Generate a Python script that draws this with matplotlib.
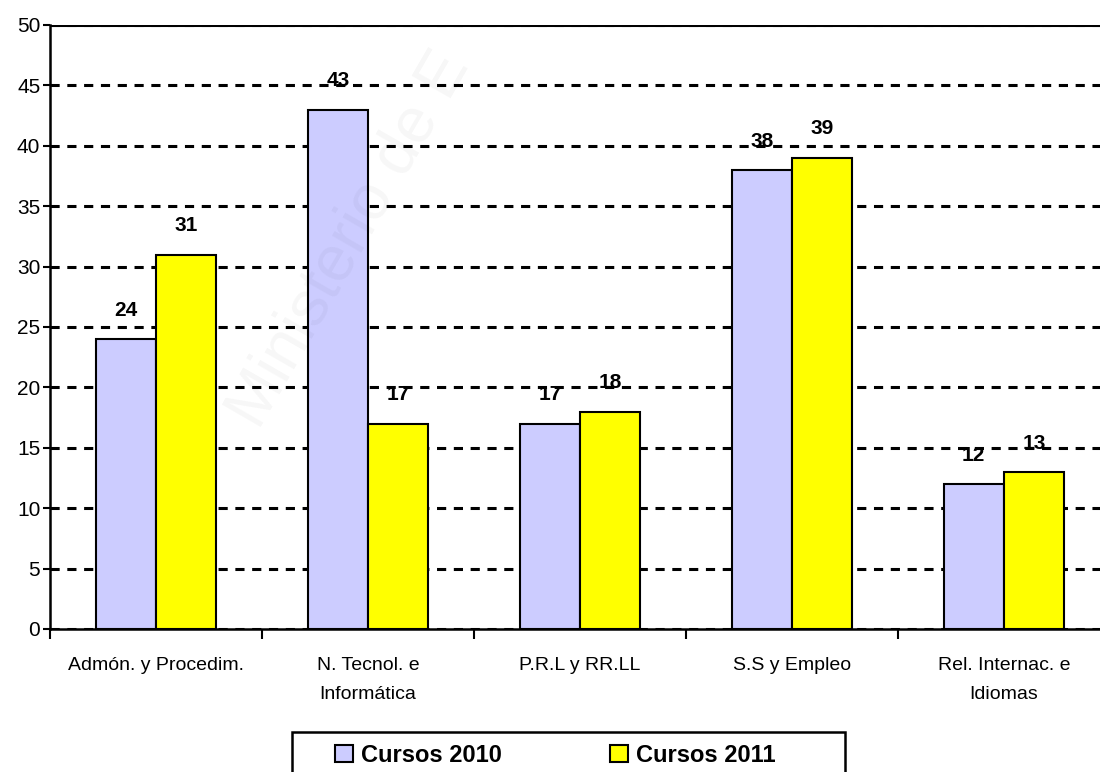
import numpy as np
import matplotlib.pyplot as plt
from matplotlib import rcParams
from matplotlib.patches import Rectangle

rcParams['font.family'] = ['Liberation Sans', 'DejaVu Sans']

# datos
categorias = ['Admón. y Procedim.', 'N. Tecnol. e\nInformática', 'P.R.L y RR.LL',
              'S.S y Empleo', 'Rel. Internac. e\nIdiomas']
cursos_2010 = [24, 43, 17, 38, 12]
cursos_2011 = [31, 17, 18, 39, 13]
series = ['Cursos 2010', 'Cursos 2011']

fig = plt.figure(figsize=(11, 7.72), dpi=100)
ax = fig.add_axes([50 / 1100, 1 - 629 / 772, 1060 / 1100, (629 - 25) / 772])

x = np.arange(len(categorias))
w = 0.285
b1 = ax.bar(x - w / 2, cursos_2010, w, color='#ccccff', edgecolor='black', linewidth=1.5,
            label=series[0], zorder=3)
b2 = ax.bar(x + w / 2, cursos_2011, w, color='#ffff00', edgecolor='black', linewidth=1.5,
            label=series[1], zorder=3)

for bars in (b1, b2):
    for r in bars:
        ax.annotate(f'{int(r.get_height())}', (r.get_x() + r.get_width() / 2, r.get_height()),
                    xytext=(0, 14), textcoords='offset points', ha='center', va='bottom',
                    fontsize=15, fontweight='bold', zorder=4)

ax.set_xlim(-0.5, len(categorias) - 0.5)
ax.set_ylim(0, 50)
ax.set_yticks(range(0, 51, 5))
ax.set_xticks(np.arange(len(categorias) + 1) - 0.5)
ax.set_xticklabels([])
ax.set_xticks(x, minor=True)
ax.set_xticklabels(categorias, minor=True, fontsize=14, linespacing=1.95)
ax.tick_params(axis='x', which='minor', length=0, pad=20)
ax.tick_params(axis='x', which='major', length=7, width=1.5, direction='out')
ax.tick_params(axis='y', length=5, width=1.5, labelsize=15, pad=2)

ax.yaxis.grid(True, linestyle=(0, (3, 2.5)), color='black', linewidth=2.2, zorder=0)
ax.spines['right'].set_visible(False)
ax.spines['top'].set_visible(False)
ax.spines['left'].set_linewidth(1.8)
ax.spines['bottom'].set_linewidth(1.8)
ax.axhline(50, color='black', linewidth=2.2, zorder=1)

# marca de agua
fig.text(0.318, 0.69, 'Ministerio de E', rotation=60, fontsize=46, color='#000000',
         alpha=0.035, ha='center', va='center', zorder=5)

leg = fig.legend(handles=[b1, b2], loc='center', bbox_to_anchor=(0.505, 0.022),
                 ncol=2, frameon=False, prop={'size': 17, 'weight': 'bold'},
                 handlelength=0.75, handleheight=0.75, handletextpad=0.35,
                 columnspacing=4.6)
fig.add_artist(Rectangle((292 / 1100, -0.02), (845 - 292) / 1100, (772 - 732) / 772 + 0.02,
                         transform=fig.transFigure, fill=False, edgecolor='black',
                         linewidth=1.8))

fig.savefig('out.png', dpi=100)
